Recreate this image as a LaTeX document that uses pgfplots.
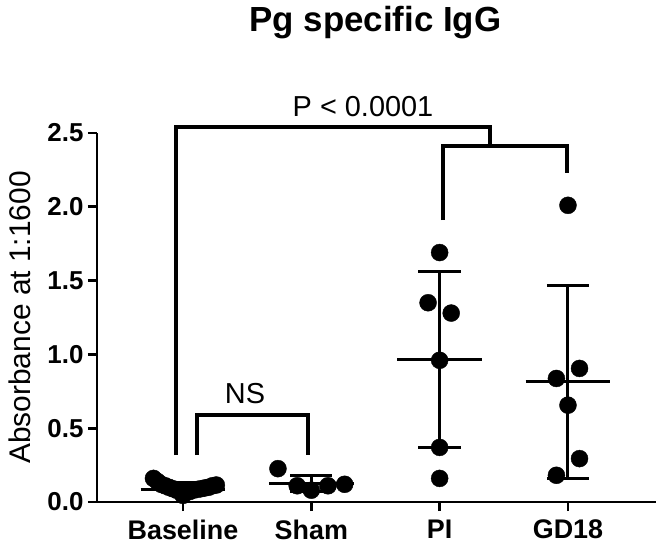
\documentclass[border=0pt]{standalone}
\usepackage{pgfplots}
\pgfplotsset{compat=1.18}
\usepackage{fontspec}
\setmainfont{Liberation Sans}
\begin{document}
\begin{tikzpicture}
\path[use as bounding box] (-97bp,-46bp) rectangle (564bp,502bp);
\begin{axis}[name=ax,
  at={(0,0)}, anchor=south west,
  scale only axis, width=559bp, height=369bp,
  xmin=-0.67, xmax=3.686, ymin=0, ymax=2.5,
  clip=false,
  axis x line=bottom, axis y line=left,
  axis line style={-, line width=2.7bp, black},
  tick align=outside, major tick length=9bp,
  tick style={line width=2.7bp, black},
  xtick={0,1,2,3},
  xticklabels={Baseline,Sham,PI,GD18},
  ytick={0,0.5,1,1.5,2,2.5},
  xticklabel style={font=\fontsize{27}{27}\selectfont\bfseries, yshift=-5bp},
  yticklabel style={font=\fontsize{26}{26}\selectfont\bfseries, xshift=-1bp},
  ebar/.style={black, solid, line width=3bp, no marks},
  brk/.style={black, solid, line width=4bp, no marks},
  dots/.style={black, only marks, mark=*, mark size=8.5bp, mark options={solid, fill=black}},
  /pgf/number format/.cd, fixed, fixed zerofill, precision=1, assume math mode=true,
]
% Baseline points
\addplot[dots] coordinates {
(-0.23,0.16) (-0.20,0.14) (-0.17,0.12) (-0.14,0.11) (-0.11,0.10) (-0.08,0.09) (-0.05,0.08) (-0.02,0.07)
(0.0,0.06) (0.0,0.045) (0.02,0.065) (0.05,0.07) (0.08,0.08) (0.11,0.085) (0.14,0.09)
(0.17,0.095) (0.20,0.10) (0.23,0.11) (0.26,0.115)
};
% Sham points
\addplot[dots] coordinates {
(0.74,0.226) (0.89,0.11) (1.0,0.08) (1.13,0.11) (1.26,0.12)
};
% PI points
\addplot[dots] coordinates {
(2.0,1.69) (1.91,1.35) (2.09,1.28) (2.0,0.96) (2.0,0.37) (2.0,0.16)
};
% GD18 points
\addplot[dots] coordinates {
(3.0,2.01) (3.09,0.905) (2.91,0.837) (3.0,0.656) (3.09,0.294) (2.91,0.181)
};
% Baseline mean and SD
\addplot[ebar] coordinates {(-0.33,0.085) (0.33,0.085)};
\addplot[ebar] coordinates {(0,0.04) (0,0.13)};
\addplot[ebar] coordinates {(-0.165,0.13) (0.165,0.13)};
% Sham
\addplot[ebar] coordinates {(0.67,0.125) (1.33,0.125)};
\addplot[ebar] coordinates {(1,0.07) (1,0.18)};
\addplot[ebar] coordinates {(0.835,0.18) (1.165,0.18)};
\addplot[ebar] coordinates {(0.835,0.07) (1.165,0.07)};
% PI
\addplot[ebar] coordinates {(1.67,0.968) (2.33,0.968)};
\addplot[ebar] coordinates {(2,0.372) (2,1.564)};
\addplot[ebar] coordinates {(1.835,1.564) (2.165,1.564)};
\addplot[ebar] coordinates {(1.835,0.372) (2.165,0.372)};
% GD18
\addplot[ebar] coordinates {(2.67,0.814) (3.33,0.814)};
\addplot[ebar] coordinates {(3,0.161) (3,1.467)};
\addplot[ebar] coordinates {(2.835,1.467) (3.165,1.467)};
\addplot[ebar] coordinates {(2.835,0.161) (3.165,0.161)};
% brackets
\addplot[brk] coordinates {(-0.054,0.317) (-0.054,2.54) (2.393,2.54) (2.393,2.41)};
\addplot[brk] coordinates {(2.027,1.91) (2.027,2.41) (2.993,2.41) (2.993,2.23)};
\addplot[brk] coordinates {(0.109,0.317) (0.109,0.59) (0.975,0.59) (0.975,0.317)};
\node[anchor=base, font=\fontsize{29}{29}\selectfont] at (axis cs:1.403,2.61) {P < 0.0001};
\node[anchor=base, font=\fontsize{29}{29}\selectfont] at (axis cs:0.483,0.67) {NS};
\node[anchor=base, font=\fontsize{35}{35}\selectfont\bfseries] at (axis cs:1.5,3.187) {Pg specific IgG};
\end{axis}
\node[rotate=90, font=\fontsize{30}{30}\selectfont] at ([xshift=-77bp]ax.west) {Absorbance at 1:1600};
\end{tikzpicture}
\end{document}
